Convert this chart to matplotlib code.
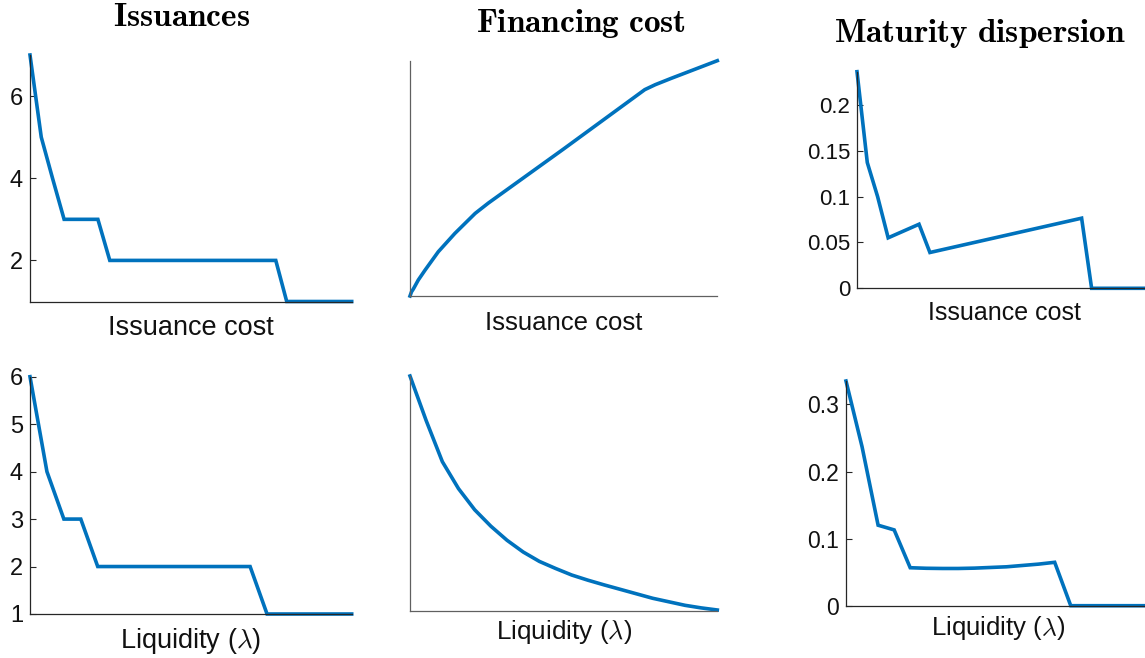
import matplotlib
matplotlib.use("Agg")
import matplotlib.pyplot as plt

plt.rcParams['font.family'] = ['Liberation Sans', 'DejaVu Sans']
plt.rcParams['mathtext.fontset'] = 'cm'

# top row: issuance cost grid (fraction of range)
top_x = [0, 0.035, 0.07, 0.106, 0.211, 0.248, 0.764, 0.798, 1.0]
issu_top = [7, 5, 4, 3, 3, 2, 2, 1, 1]
disp_top = [0.236, 0.137, 0.100, 0.055, 0.0698, 0.039, 0.0764, 0, 0]

fin_x = [0, 0.005, 0.011, 0.027, 0.049, 0.092, 0.146, 0.212, 0.255, 0.50, 0.764, 0.798, 0.85, 1.0]
fin_top = [0, 0.018, 0.03, 0.068, 0.11, 0.188, 0.266, 0.351, 0.395, 0.625, 0.877, 0.898, 0.925, 1.0]

# bottom row: liquidity grid (20 points)
bot_x = [k / 19 for k in range(20)]
issu_bot = [6, 4, 3, 3, 2, 2, 2, 2, 2, 2, 2, 2, 2, 2, 1, 1, 1, 1, 1, 1]
fin_bot = [1.0, 0.81, 0.635, 0.52, 0.43, 0.36, 0.30, 0.25, 0.21, 0.18,
           0.152, 0.13, 0.11, 0.091, 0.072, 0.053, 0.038, 0.023, 0.012, 0.003]
disp_bot = [0.335, 0.237, 0.120, 0.113, 0.0566, 0.0558, 0.0555, 0.0555, 0.056, 0.057,
            0.058, 0.060, 0.062, 0.0647, 0, 0, 0, 0, 0, 0]

W, H = 1145, 658
fig = plt.figure(figsize=(W / 100, H / 100), dpi=100)
blue = '#0072BD'


def box(l, r, t, b):
    return [l / W, 1 - b / H, (r - l) / W, (b - t) / H]


def setup(ax, xs, ys, ylim, yticks, xlabel, lsize, lpad, tsize=17, ticklabels=None):
    ax.plot(xs, ys, color=blue, lw=2.6, clip_on=False, solid_joinstyle='miter')
    ax.set_xlim(0, 1)
    ax.set_ylim(*ylim)
    ax.spines['top'].set_visible(False)
    ax.spines['right'].set_visible(False)
    ax.set_xticks([])
    ax.set_yticks(yticks)
    if ticklabels is not None:
        ax.set_yticklabels(ticklabels)
    col = '#262626' if yticks else '#606060'
    for s in ('left', 'bottom'):
        ax.spines[s].set_color(col)
        ax.spines[s].set_linewidth(0.9)
    ax.tick_params(axis='y', direction='in', length=4, color='#262626',
                   labelsize=tsize, pad=5, labelcolor='#111111')
    ax.set_xlabel(xlabel, fontsize=lsize, labelpad=lpad, color='#111111')


ax1 = fig.add_axes(box(30, 351.7, 55, 301.5))
setup(ax1, top_x, issu_top, (1, 7), [2, 4, 6], 'Issuance cost', 19.5, 10)

ax2 = fig.add_axes(box(410, 717.3, 60.7, 296))
setup(ax2, fin_x, fin_top, (0, 1), [], 'Issuance cost', 18.5, 11)

ax3 = fig.add_axes(box(857, 1151, 71.7, 288.3))
setup(ax3, top_x, disp_top, (0, 0.236), [0, 0.05, 0.1, 0.15, 0.2], 'Issuance cost', 18, 9,
      16, ['0', '0.05', '0.1', '0.15', '0.2'])

ax4 = fig.add_axes(box(30, 351.7, 376.7, 614))
setup(ax4, bot_x, issu_bot, (1, 6), [1, 2, 3, 4, 5, 6], r'Liquidity ($\lambda$)', 19.5, 9)

ax5 = fig.add_axes(box(410, 717.3, 376, 610.7))
setup(ax5, bot_x, fin_bot, (0, 1), [], r'Liquidity ($\lambda$)', 18.8, 5)

ax6 = fig.add_axes(box(846, 1151, 381, 605.7))
setup(ax6, bot_x, disp_bot, (0, 0.335), [0, 0.1, 0.2, 0.3], r'Liquidity ($\lambda$)', 18.5, 6,
      16.5, ['0', '0.1', '0.2', '0.3'])

fig.text(182 / W, 1 - 17 / H, r'$\mathbf{Issuances}$', fontsize=24, ha='center', va='center')
fig.text(581 / W, 1 - 24 / H, r'$\mathbf{Financing\ cost}$', fontsize=24, ha='center', va='center')
fig.text(980 / W, 1 - 33 / H, r'$\mathbf{Maturity\ dispersion}$', fontsize=24, ha='center', va='center')

fig.savefig('out.png', dpi=100)
plt.close(fig)
